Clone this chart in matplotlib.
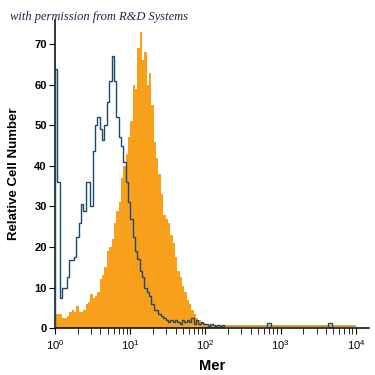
import numpy as np
import matplotlib
matplotlib.use('Agg')
import matplotlib.pyplot as plt
from matplotlib import font_manager
from matplotlib.ticker import LogLocator, NullFormatter, FixedLocator

# histogram channels: 32 bins per decade, 10^0 .. 10^4
bins_per_decade = 32
n_decades = 4

# isotype control (outline)
isotype = [
    64, 36, 7.5, 10, 10, 12.6, 16.8, 16.8, 17.6, 22.5,
    26, 30.5, 29, 36, 36, 30, 43.6, 50, 52, 49,
    46.5, 50, 55.7, 61, 67, 61, 52, 47, 45, 41,
    36, 31, 27, 22.5, 19, 17, 14, 12.5, 10, 9,
    8, 6, 4.5, 4.5, 3.5, 3, 2.5, 2, 1.5, 2,
    1.5, 2, 1.5, 1, 2, 1.5, 2, 1.5, 2.5, 1,
    2, 1, 1.5, 1, 1, 0.5, 1, 0.8, 0.5, 0.8,
    0.5, 0.8, 0.3, 0.3, 0.3, 0.3, 0.3, 0.3, 0.3, 0.3,
    0.3, 0.3, 0.3, 0.3, 0.3, 0.3, 0.3, 0.3, 0.3, 0.3,
    1.2, 1.2, 0.3, 0.3, 0.3, 0.3, 0.3, 0.3, 0.3, 0.3,
    0.3, 0.3, 0.3, 0.3, 0.3, 0.3, 0.3, 0.3, 0.3, 0.3,
    0.3, 0.3, 0.3, 0.3, 0.3, 0.3, 1.2, 1.2, 0.3, 0.3,
    0.3, 0.3, 0.3, 0.3, 0.3, 0.3, 0.3, 0.3,
]

# Mer stained cells (filled)
mer = [
    3.5, 3.5, 3.5, 2.5, 2.5, 3, 4, 4.5, 4, 5.5,
    4, 4, 4.5, 6, 6.5, 8.5, 7.5, 8, 9, 12,
    13, 15, 19, 20, 22, 26, 29, 31, 37, 40,
    43, 47, 51, 60, 59, 69, 73, 66, 68, 60,
    63, 55, 46, 42, 38, 33, 28, 27, 26, 23,
    21, 17.5, 14, 12.5, 10.5, 9, 7, 6, 4.5, 3.5,
    2.5, 2, 1.5, 1.2, 1, 0.8, 1, 0.8, 0.8, 0.8,
    0.8, 0.7, 0.8, 0.8, 0.7, 0.8, 0.8, 0.8, 0.7, 0.8,
    0.8, 0.8, 0.7, 0.8, 0.8, 0.8, 0.7, 0.8, 0.8, 0.8,
    0.8, 0.7, 0.8, 0.8, 0.8, 0.7, 0.8, 0.8, 0.8, 0.7,
    0.8, 0.8, 0.8, 0.7, 0.8, 0.8, 0.8, 0.7, 0.8, 0.8,
    0.8, 0.7, 0.8, 0.8, 0.8, 0.7, 0.8, 0.8, 0.8, 0.7,
    0.8, 0.8, 0.8, 0.7, 0.8, 0.8, 0.8, 0.7,
]

y_ticks = [0, 10, 20, 30, 40, 50, 60, 70]
x_ticks = [1, 10, 100, 1000, 10000]
x_ticklabels = [r'$10^{0}$', r'$10^{1}$', r'$10^{2}$', r'$10^{3}$', r'$10^{4}$']

edges = 10 ** (np.arange(bins_per_decade * n_decades + 1) / bins_per_decade)

installed = {f.name for f in font_manager.fontManager.ttflist}
sans = 'Liberation Sans' if 'Liberation Sans' in installed else 'DejaVu Sans'
plt.rcParams['font.family'] = sans
plt.rcParams['mathtext.fontset'] = 'custom'
plt.rcParams['mathtext.rm'] = sans
plt.rcParams['mathtext.it'] = sans

fig = plt.figure(figsize=(3.75, 3.75), dpi=100)
ax = fig.add_axes([0.147, 0.125, 0.836, 0.822])

ax.stairs(mer, edges, fill=True, color='#F8A01C', linewidth=0, zorder=2)
ax.stairs(isotype, edges, color='#1d4a68', linewidth=1.0, zorder=3)

ax.set_xscale('log')
ax.set_xlim(1, 10 ** 4.17)
ax.set_ylim(0, 76)

ax.xaxis.set_major_locator(FixedLocator(x_ticks))
ax.set_xticklabels(x_ticklabels)
ax.xaxis.set_minor_locator(LogLocator(base=10, subs=np.arange(2, 10), numticks=20))
ax.xaxis.set_minor_formatter(NullFormatter())
ax.set_yticks(y_ticks)

for s in ['top', 'right']:
    ax.spines[s].set_visible(False)
for s in ['left', 'bottom']:
    ax.spines[s].set_linewidth(1.1)

ax.tick_params(axis='y', which='major', direction='out', length=4, width=0.8, pad=2, labelsize=8)
ax.tick_params(axis='x', which='major', direction='out', length=4, width=0.8, pad=3, labelsize=8)
ax.tick_params(axis='x', which='minor', direction='out', length=4, width=0.6)
for lab in ax.get_yticklabels():
    lab.set_fontweight('bold')

ax.set_ylabel('Relative Cell Number', fontweight='bold', fontsize=9.5, labelpad=10)
ax.set_xlabel('Mer', fontweight='bold', fontsize=10.5, labelpad=5)

fig.text(0.027, 0.955, 'with permission from R&D Systems', fontsize=9,
         style='italic', family='Liberation Serif', color='#1b2747', va='center')

plt.savefig('out.png', dpi=100)
